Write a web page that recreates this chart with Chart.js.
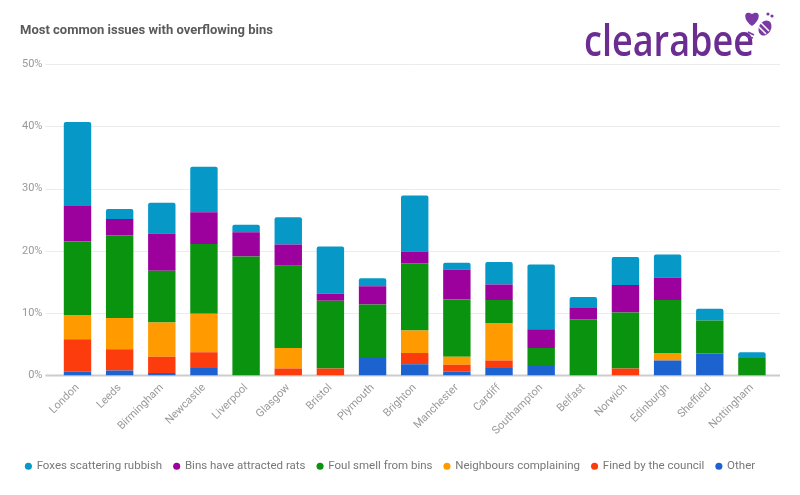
<!DOCTYPE html>
<html>
<head>
<meta charset="utf-8">
<script src="https://cdn.jsdelivr.net/npm/chart.js@4"></script>
<style>
  html, body { margin: 0; padding: 0; background: #fff; }
  #wrap { width: 800px; height: 495px; position: relative; }
</style>
</head>
<body>
<div id="wrap"><canvas id="binsChart"></canvas></div>
<script>
// ---- data (percent of respondents) ----
const cities = ["London", "Leeds", "Birmingham", "Newcastle", "Liverpool", "Glasgow", "Bristol",
  "Plymouth", "Brighton", "Manchester", "Cardiff", "Southampton", "Belfast", "Norwich",
  "Edinburgh", "Sheffield", "Nottingham"];

// stacked bottom -> top
const other      = [0.6, 0.8, 0.4, 1.2, 0, 0, 0, 2.8, 1.8, 0.6, 1.2, 1.5, 0, 0, 2.4, 3.5, 0];
const fined      = [5.2, 3.4, 2.6, 2.5, 0, 1.1, 1.1, 0, 1.8, 1.1, 1.2, 0, 0, 1.1, 0, 0, 0];
const neighbours = [3.9, 5.0, 5.5, 6.2, 0, 3.3, 0, 0, 3.6, 1.3, 6.0, 0, 0, 0, 1.2, 0, 0];
const foulSmell  = [11.8, 13.3, 8.3, 11.2, 19.1, 13.2, 10.9, 8.6, 10.8, 9.2, 3.7, 2.9, 9.0, 9.0, 8.5, 5.3, 2.8];
const rats       = [5.7, 2.6, 6.0, 5.1, 3.9, 3.4, 1.1, 2.9, 1.9, 4.8, 2.5, 3.0, 1.8, 4.4, 3.6, 0, 0];
const foxes      = [13.5, 1.6, 4.9, 7.3, 1.2, 4.4, 7.6, 1.3, 9.0, 1.1, 3.6, 10.4, 1.8, 4.5, 3.7, 1.9, 0.9];

const yTicks = [0, 10, 20, 30, 40, 50];

const FONT = "Roboto, 'Noto Sans', sans-serif";

/* ---- title, logo and extended grid lines ---- */
const decor = {
  id: "decor",
  beforeDatasetsDraw(chart) {
    const { ctx, chartArea } = chart;
    const y = chart.scales.y;
    ctx.save();
    y.ticks.forEach((t) => {
      const py = Math.round(y.getPixelForValue(t.value)) + 0.5;
      ctx.strokeStyle = t.value === 0 ? "#cccccc" : "#ececec";
      ctx.lineWidth = t.value === 0 ? 2 : 1;
      ctx.beginPath();
      ctx.moveTo(chartArea.left - 11, py);
      ctx.lineTo(chartArea.right + 7, py);
      ctx.stroke();
    });
    ctx.restore();
  },
  afterDraw(chart) {
    const { ctx } = chart;
    ctx.save();
    // title
    ctx.fillStyle = "#5a5a5a";
    ctx.font = "bold 13px " + FONT;
    ctx.textBaseline = "middle";
    ctx.fillText("Most common issues with overflowing bins", 20, 31);

    // logo word
    ctx.fillStyle = "#6b2d91";
    ctx.font = "600 43px 'Open Sans', sans-serif";
    ctx.textBaseline = "alphabetic";
    ctx.fillText("clearabee", 584, 56, 170);

    // little heart + bee
    ctx.fillStyle = "#7b3aa3";
    ctx.beginPath();
    const hx = 752, hy = 17;
    ctx.moveTo(hx, hy + 9);
    ctx.bezierCurveTo(hx - 10, hy + 2, hx - 8, hy - 8, hx, hy - 3);
    ctx.bezierCurveTo(hx + 8, hy - 8, hx + 10, hy + 2, hx, hy + 9);
    ctx.fill();
    ctx.beginPath();
    ctx.ellipse(765, 28, 6, 8, 0.5, 0, Math.PI * 2);
    ctx.fill();
    ctx.strokeStyle = "#ffffff";
    ctx.lineWidth = 1.5;
    ctx.beginPath();
    ctx.moveTo(759, 27); ctx.lineTo(766, 34);
    ctx.moveTo(761, 23); ctx.lineTo(769, 31);
    ctx.stroke();
    ctx.fillStyle = "#7b3aa3";
    ctx.beginPath(); ctx.arc(768, 14, 1.6, 0, Math.PI * 2); ctx.fill();
    ctx.beginPath(); ctx.arc(772, 16, 1.6, 0, Math.PI * 2); ctx.fill();
    ctx.strokeStyle = "#7b3aa3";
    ctx.lineWidth = 1.6;
    ctx.beginPath();
    ctx.moveTo(748, 32); ctx.lineTo(754, 35);
    ctx.moveTo(746, 36); ctx.lineTo(753, 38);
    ctx.stroke();
    ctx.restore();
  },
};

function series(label, data, color) {
  return {
    label,
    data,
    backgroundColor: color,
    borderWidth: 0,
    borderRadius: 2,
    categoryPercentage: 1,
    barPercentage: 0.65,
  };
}

const ctx = document.getElementById("binsChart").getContext("2d");
new Chart(ctx, {
  type: "bar",
  data: {
    labels: cities,
    datasets: [
      series("Other", other, "#1c63cf"),
      series("Fined by the council", fined, "#fc3c0c"),
      series("Neighbours complaining", neighbours, "#ff9a00"),
      series("Foul smell from bins", foulSmell, "#0a930e"),
      series("Bins have attracted rats", rats, "#9c019e"),
      series("Foxes scattering rubbish", foxes, "#0699c7"),
    ],
  },
  options: {
    responsive: true,
    maintainAspectRatio: false,
    animation: false,
    layout: { padding: { top: 64, left: 8, right: 27, bottom: 13 } },
    plugins: {
      title: { display: false },
      tooltip: { enabled: false },
      legend: {
        position: "bottom",
        reverse: true,
        labels: {
          usePointStyle: true,
          pointStyle: "circle",
          boxWidth: 5,
          boxHeight: 5,
          padding: 12,
          color: "#777",
          font: { family: FONT, size: 11.5 },
        },
      },
    },
    scales: {
      x: {
        stacked: true,
        grid: { display: false, drawTicks: false },
        border: { display: false },
        afterFit: (axis) => {
          axis.height += 5; // gap between rotated labels and legend
        },
        ticks: {
          color: "#999",
          font: { family: FONT, size: 11 },
          maxRotation: 45,
          minRotation: 45,
          padding: 6,
          autoSkip: false,
        },
      },
      y: {
        stacked: true,
        min: 0,
        max: 50,
        afterBuildTicks: (axis) => {
          axis.ticks = yTicks.map((v) => ({ value: v }));
        },
        grid: { display: false, drawTicks: false },
        border: { display: false },
        ticks: {
          color: "#999",
          font: { family: FONT, size: 11 },
          padding: 14,
          callback: (v) => v + "%",
        },
      },
    },
  },
  plugins: [decor],
});
</script>
</body>
</html>
